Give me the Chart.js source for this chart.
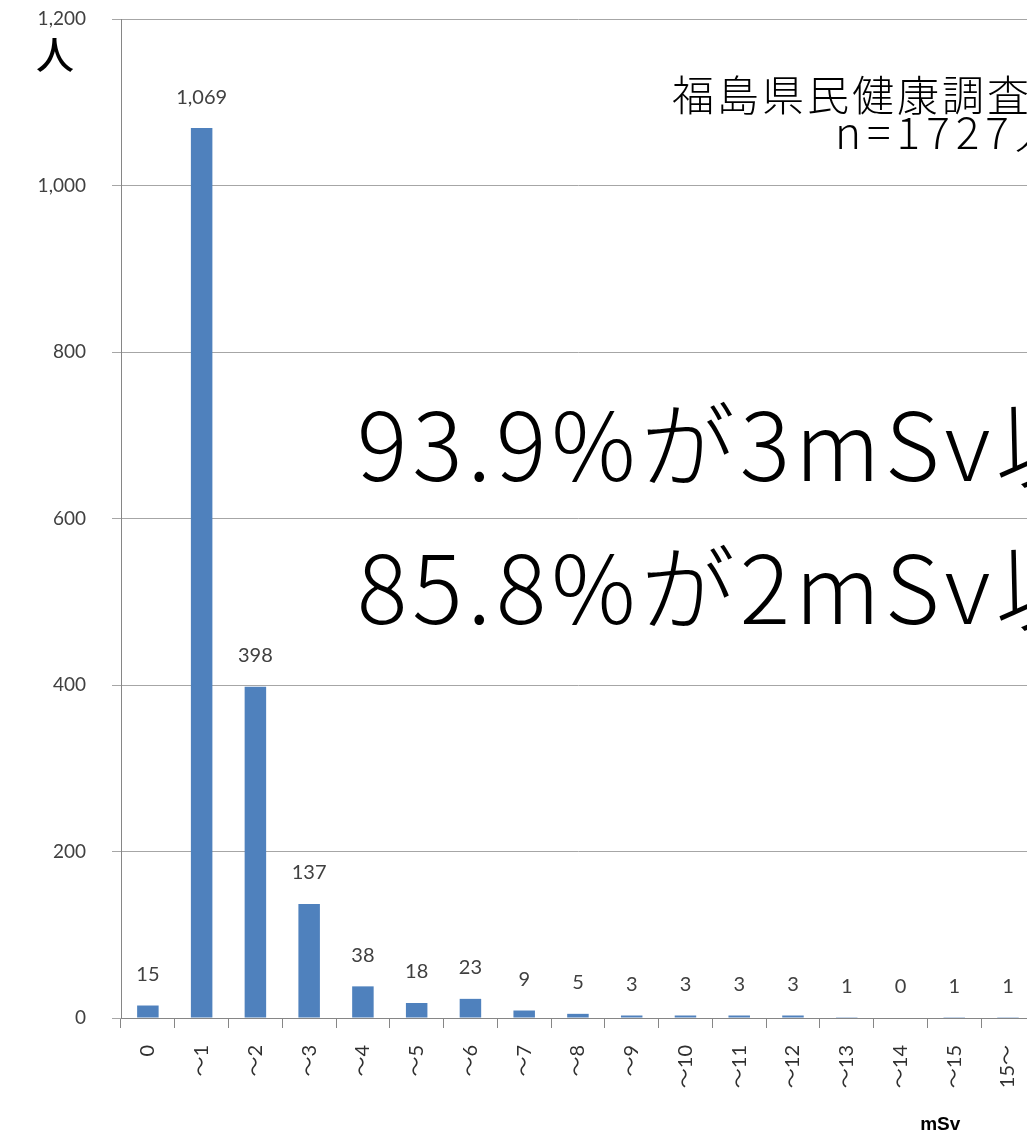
<!DOCTYPE html>
<html>
<head>
<meta charset="utf-8">
<script src="https://cdn.jsdelivr.net/npm/chart.js@4"></script>
<style>
  html, body { margin: 0; padding: 0; overflow: hidden; background: #fff; }
  #wrap { width: 1049px; height: 1135px; }
</style>
</head>
<body>
<div id="wrap"><canvas id="chart"></canvas></div>
<script>
// 被ばく線量の分布 (mSv)
const categories = ['0', '～1', '～2', '～3', '～4', '～5', '～6', '～7', '～8', '～9', '～10', '～11', '～12', '～13', '～14', '～15', '15～'];
const people = [15, 1069, 398, 137, 38, 18, 23, 9, 5, 3, 3, 3, 3, 1, 0, 1, 1];
const yTicks = [0, 200, 400, 600, 800, 1000, 1200];

const fmt = v => v.toLocaleString('en-US');

// data labels above each bar
const barLabels = {
    id: 'barLabels',
    afterDatasetsDraw(chart) {
        const ctx = chart.ctx;
        const meta = chart.getDatasetMeta(0);
        ctx.save();
        ctx.font = '20px Lato, "Noto Sans"';
        ctx.fillStyle = '#404040';
        ctx.textAlign = 'center';
        ctx.textBaseline = 'middle';
        meta.data.forEach((bar, i) => {
            ctx.fillText(fmt(people[i]), bar.x, bar.y - 31);
        });
        ctx.restore();
    }
};

// 注記テキスト
const notes = {
    id: 'notes',
    afterDraw(chart) {
        const ctx = chart.ctx;
        const x = chart.scales.x;
        ctx.save();
        ctx.fillStyle = '#000';
        ctx.textBaseline = 'middle';

        ctx.textAlign = 'center';
        ctx.font = '500 38px "Noto Sans CJK JP"';
        ctx.fillText('人', 55, 55);

        ctx.textAlign = 'left';
        ctx.font = '300 42px "Noto Sans CJK JP"';
        ctx.letterSpacing = '3px';
        ctx.fillText('福島県民健康調査', 672, 95);
        ctx.font = '300 44px "Noto Sans CJK JP"';
        ctx.letterSpacing = '6px';
        ctx.fillText('n=1727人', 835, 132);

        ctx.font = '300 94px "Noto Sans CJK JP"';
        ctx.letterSpacing = '5px';
        ctx.fillText('93.9%が3mSv以下', 357, 445);
        ctx.fillText('85.8%が2mSv以下', 357, 588);
        ctx.letterSpacing = '0px';

        ctx.textAlign = 'center';
        ctx.font = 'bold 19px "Liberation Sans"';
        ctx.fillText('mSv', x.getPixelForValue(15) - 14, 1125);
        ctx.restore();
    }
};

new Chart(document.getElementById('chart').getContext('2d'), {
    type: 'bar',
    data: {
        labels: categories,
        datasets: [{
            data: people,
            backgroundColor: '#4f81bd',
            barPercentage: 0.4,
            categoryPercentage: 1.0
        }]
    },
    options: {
        responsive: true,
        maintainAspectRatio: false,
        animation: false,
        layout: { padding: { top: 19, right: 0, bottom: 0, left: 0 } },
        plugins: {
            legend: { display: false },
            tooltip: { enabled: false }
        },
        scales: {
            x: {
                afterFit: s => { s.height = 117; },
                border: { color: '#868686' },
                grid: { drawOnChartArea: false, drawTicks: true, tickLength: 10, color: '#868686' },
                ticks: {
                    minRotation: 90, maxRotation: 90, autoSkip: false,
                    padding: 17,
                    color: '#303030',
                    font: { family: 'Lato, "Noto Sans CJK JP"', size: 20 }
                }
            },
            y: {
                min: 0, max: 1200,
                afterFit: s => { s.width = 121; s.paddingTop = 0; s.paddingBottom = 0; },
                afterBuildTicks: s => { s.ticks = yTicks.map(v => ({ value: v })); },
                border: { color: '#868686' },
                grid: { color: '#a6a6a6', tickLength: 9 },
                ticks: {
                    padding: 26,
                    color: '#404040',
                    font: { family: 'Lato, "Noto Sans"', size: 19 },
                    callback: v => fmt(v)
                }
            }
        }
    },
    plugins: [barLabels, notes]
});
</script>
</body>
</html>
